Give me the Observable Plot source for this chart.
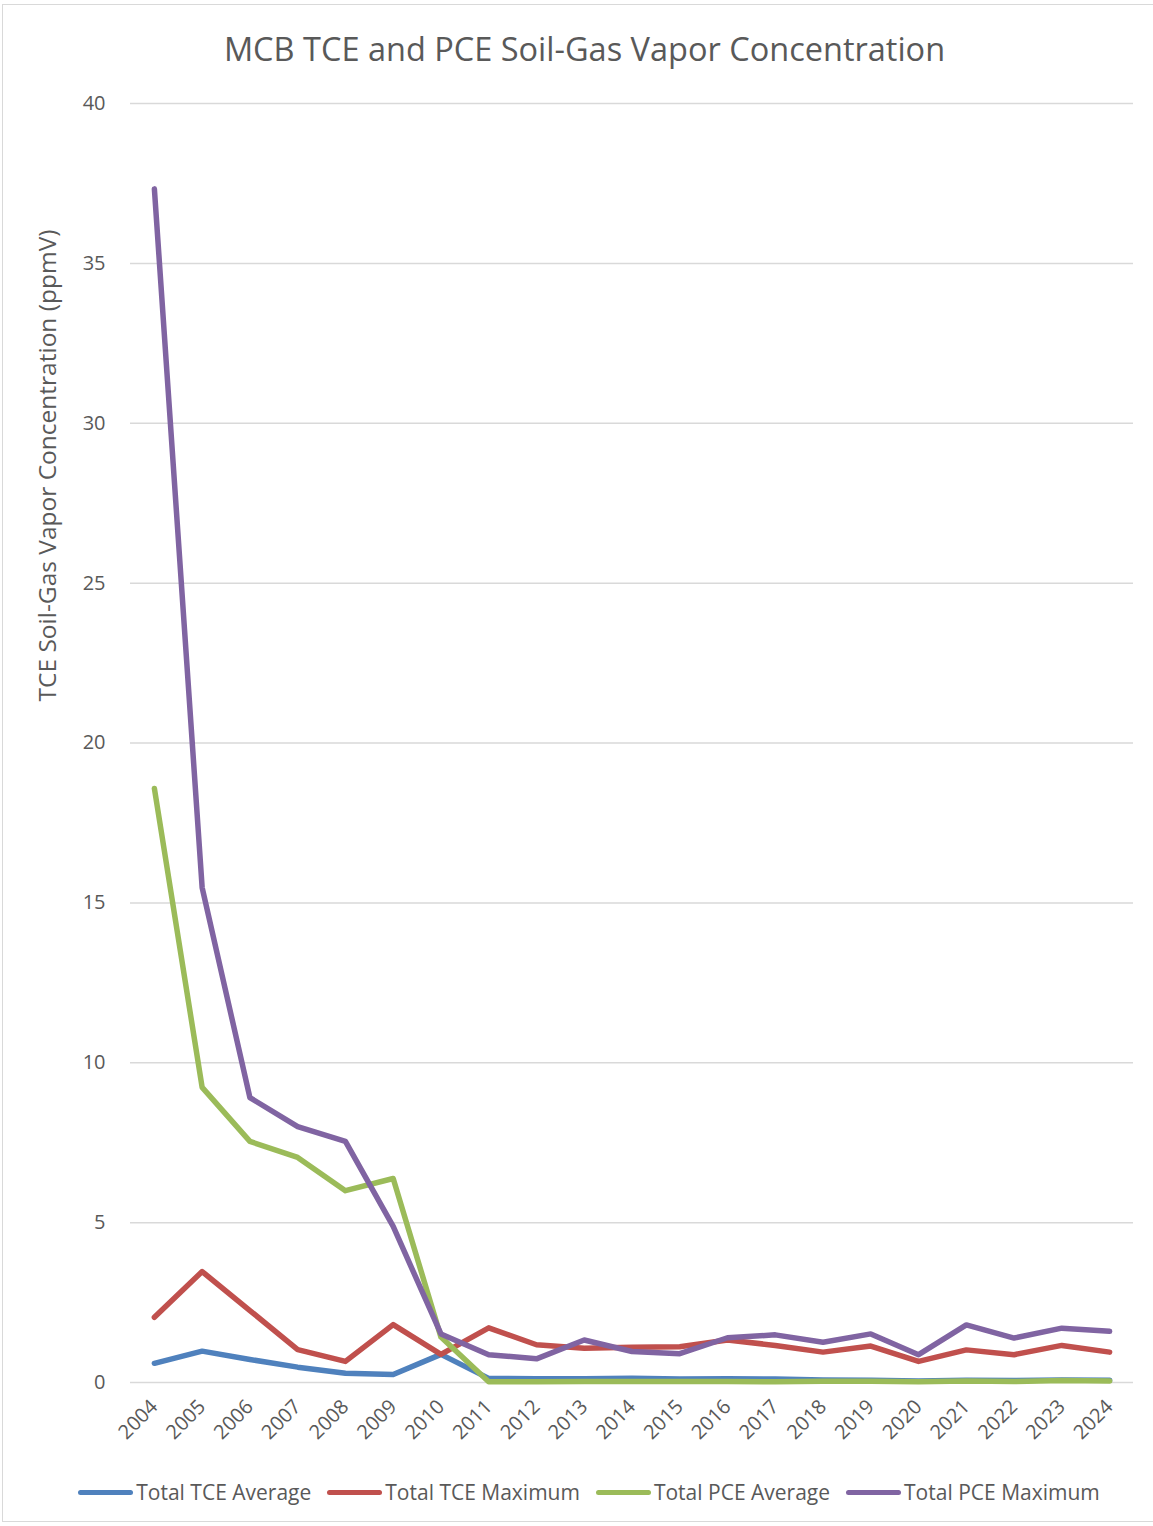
<!DOCTYPE html>
<html>
<head>
<meta charset="utf-8">
<script src="https://cdn.jsdelivr.net/npm/d3@7"></script>
<script src="https://cdn.jsdelivr.net/npm/@observablehq/plot@0.6"></script>
<style>
  html, body { margin: 0; padding: 0; background: #fff; }
  body { width: 1153px; height: 1526px; position: relative; overflow: hidden; font-family: "Open Sans", sans-serif; color: #595959; }
  #frame { position: absolute; left: 2px; top: 4px; width: 1170px; height: 1518px; border: 1px solid #d9d9d9; box-sizing: border-box; pointer-events: none; }
  #title { height: 80px; box-sizing: border-box; padding-top: 32px; padding-left: 16px; text-align: center; font-size: 32.5px; line-height: 34px; color: #595959; white-space: nowrap; }
  #legend { display: flex; justify-content: center; align-items: center; padding-top: 15px; padding-left: 25px; font-size: 21px; line-height: 24px; color: #595959; white-space: nowrap; }
  .item { display: flex; align-items: center; margin: 0 8px; }
  .sw { width: 55px; height: 5px; border-radius: 3px; margin-right: 3px; }
</style>
</head>
<body>
<div id="frame"></div>
<div id="title">MCB TCE and PCE Soil-Gas Vapor Concentration</div>
<div id="chart"></div>
<div id="legend"></div>
<script>
const years = ["2004","2005","2006","2007","2008","2009","2010","2011","2012","2013","2014","2015","2016","2017","2018","2019","2020","2021","2022","2023","2024"];
const tceAverage = [0.6, 0.98, 0.72, 0.48, 0.29, 0.25, 0.88, 0.13, 0.12, 0.12, 0.13, 0.11, 0.12, 0.11, 0.08, 0.07, 0.05, 0.07, 0.06, 0.08, 0.07];
const tceMaximum = [2.04, 3.47, 2.25, 1.03, 0.66, 1.81, 0.88, 1.71, 1.18, 1.07, 1.1, 1.12, 1.33, 1.16, 0.95, 1.14, 0.66, 1.02, 0.87, 1.16, 0.95];
const pceAverage = [18.58, 9.23, 7.54, 7.04, 6.0, 6.38, 1.42, 0.02, 0.02, 0.03, 0.03, 0.03, 0.03, 0.02, 0.04, 0.04, 0.02, 0.05, 0.03, 0.06, 0.05];
const pceMaximum = [37.33, 15.48, 8.91, 8.0, 7.54, 4.88, 1.52, 0.87, 0.74, 1.33, 0.97, 0.9, 1.4, 1.49, 1.26, 1.52, 0.87, 1.8, 1.39, 1.7, 1.6];
const seriesNames = ["Total TCE Average", "Total TCE Maximum", "Total PCE Average", "Total PCE Maximum"];
const seriesColors = ["#4F81BD", "#C0504D", "#9BBB59", "#8064A2"];
const yTicks = [0, 5, 10, 15, 20, 25, 30, 35, 40];
const yLabel = "TCE Soil-Gas Vapor Concentration (ppmV)";

const seriesValues = [tceAverage, tceMaximum, pceAverage, pceMaximum];
const rows = [];
seriesValues.forEach((vals, i) => vals.forEach((v, j) => rows.push({year: years[j], value: v, series: seriesNames[i]})));

const chart = Plot.plot({
  width: 1153,
  height: 1385,
  marginLeft: 130,
  marginRight: 20,
  marginTop: 23,
  marginBottom: 83,
  style: {fontFamily: "Open Sans, sans-serif", color: "#595959", background: "transparent"},
  x: {type: "point", domain: years, padding: 0.5, round: false},
  y: {domain: [0, 40]},
  color: {domain: seriesNames, range: seriesColors},
  marks: [
    Plot.ruleY(yTicks, {stroke: "#d9d9d9", strokeWidth: 1.5}),
    Plot.axisY({ticks: yTicks, tickSize: 0, tickPadding: 25, fontSize: 20, label: null, fill: "#595959"}),
    Plot.axisX({tickSize: 0, tickRotate: -45, tickPadding: 21, fontSize: 20, label: null, fill: "#595959"}),
    Plot.text([yLabel], {frameAnchor: "top-left", dx: -92, dy: 362, rotate: -90, textAnchor: "middle", fontSize: 24.5, fill: "#595959"}),
    ...seriesNames.map(name => Plot.line(rows.filter(d => d.series === name), {
      x: "year", y: "value", stroke: "series", strokeWidth: 5.5, strokeLinecap: "round", strokeLinejoin: "round"
    }))
  ]
});
document.getElementById("chart").appendChild(chart);

const legend = document.getElementById("legend");
seriesNames.forEach((name, i) => {
  const item = document.createElement("div");
  item.className = "item";
  const sw = document.createElement("div");
  sw.className = "sw";
  sw.style.background = seriesColors[i];
  const label = document.createElement("span");
  label.textContent = name;
  item.appendChild(sw);
  item.appendChild(label);
  legend.appendChild(item);
});
</script>
</body>
</html>
